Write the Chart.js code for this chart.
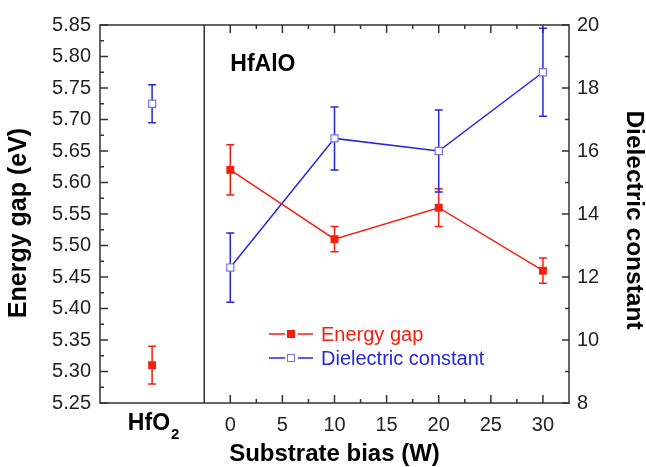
<!DOCTYPE html>
<html>
<head>
<meta charset="utf-8">
<script src="https://cdn.jsdelivr.net/npm/chart.js@4.4.1/dist/chart.umd.min.js"></script>
<style>
  html, body { margin: 0; padding: 0; background: #fff; }
  #wrap { width: 646px; height: 467px; }
</style>
</head>
<body>
<div id="wrap"><canvas id="chart"></canvas></div>
<script>
// ================= DATA =================
const biasLevels = [0, 10, 20, 30];           // substrate bias (W)
const gapValues = [5.62, 5.51, 5.56, 5.46];   // energy gap (eV)
const gapErrors = [0.04, 0.02, 0.03, 0.02];
const kValues = [12.3, 16.4, 16.0, 18.5];     // dielectric constant
const kErrors = [1.1, 1.0, 1.3, 1.4];

// HfO2 reference film, plotted left of the divider
const refPosition = -7.5;
const refGap = 5.31;
const refGapError = 0.03;
const refK = 17.5;
const refKError = 0.6;

const biasTicks = [0, 5, 10, 15, 20, 25, 30];
const gapTicks = [5.25, 5.30, 5.35, 5.40, 5.45, 5.50, 5.55, 5.60, 5.65, 5.70, 5.75, 5.80, 5.85];
const kTicks = [8, 10, 12, 14, 16, 18, 20];
const dividerAt = -2.5;

const RED = "#f2200f";
const BLUE = "#2626dc";
const FRAME = "#333";
const FONT = 'Arial, "Liberation Sans", sans-serif';

Chart.defaults.font.family = FONT;

// ================= PLUGINS =================
const errorBars = {
  id: "errorBars",
  beforeDatasetsDraw(chart) {
    const ctx = chart.ctx;
    chart.data.datasets.forEach((ds, i) => {
      const meta = chart.getDatasetMeta(i);
      const yScale = chart.scales[ds.yAxisID];
      ctx.save();
      ctx.strokeStyle = ds.borderColor;
      ctx.lineWidth = 1.5;
      ds.data.forEach((p, j) => {
        const x = meta.data[j].x;
        const top = yScale.getPixelForValue(p.y + p.err);
        const bot = yScale.getPixelForValue(p.y - p.err);
        ctx.beginPath();
        ctx.moveTo(x, top); ctx.lineTo(x, bot);
        ctx.moveTo(x - 4, top); ctx.lineTo(x + 4, top);
        ctx.moveTo(x - 4, bot); ctx.lineTo(x + 4, bot);
        ctx.stroke();
      });
      ctx.restore();
    });
  }
};

const frame = {
  id: "frame",
  beforeDatasetsDraw(chart) {
    const { ctx, chartArea: a, scales } = chart;
    ctx.save();
    ctx.strokeStyle = FRAME;
    ctx.lineWidth = 1.5;
    ctx.strokeRect(a.left, a.top, a.right - a.left, a.bottom - a.top);

    // divider between HfO2 and the HfAlO series
    const dx = scales.x.getPixelForValue(dividerAt);
    ctx.beginPath();
    ctx.moveTo(dx, a.top); ctx.lineTo(dx, a.bottom);

    // inward ticks, major and minor
    gapTicks.forEach((v, i) => {
      const y = scales.yGap.getPixelForValue(v);
      ctx.moveTo(a.left, y); ctx.lineTo(a.left + 8, y);
      if (i < gapTicks.length - 1) {
        const m = scales.yGap.getPixelForValue((v + gapTicks[i + 1]) / 2);
        ctx.moveTo(a.left, m); ctx.lineTo(a.left + 4, m);
      }
    });
    kTicks.forEach((v, i) => {
      const y = scales.yK.getPixelForValue(v);
      ctx.moveTo(a.right, y); ctx.lineTo(a.right - 7, y);
      if (i < kTicks.length - 1) {
        const m = scales.yK.getPixelForValue((v + kTicks[i + 1]) / 2);
        ctx.moveTo(a.right, m); ctx.lineTo(a.right - 4, m);
      }
    });
    biasTicks.forEach((v, i) => {
      const x = scales.x.getPixelForValue(v);
      ctx.moveTo(x, a.bottom); ctx.lineTo(x, a.bottom - 8);
      ctx.moveTo(x, a.top); ctx.lineTo(x, a.top + 8);
      if (i < biasTicks.length - 1) {
        const m = scales.x.getPixelForValue((v + biasTicks[i + 1]) / 2);
        ctx.moveTo(m, a.bottom); ctx.lineTo(m, a.bottom - 4);
        ctx.moveTo(m, a.top); ctx.lineTo(m, a.top + 4);
      }
    });
    ctx.stroke();
    ctx.restore();
  },
  afterDraw(chart) {
    const { ctx, scales } = chart;
    ctx.save();

    // vertical axis titles
    ctx.fillStyle = "#000";
    ctx.textAlign = "center";
    ctx.textBaseline = "middle";
    ctx.font = "bold 25px " + FONT;
    ctx.save();
    ctx.translate(19, 223);
    ctx.rotate(-Math.PI / 2);
    ctx.fillText("Energy gap (eV)", 0, 0);
    ctx.restore();
    ctx.font = "bold 24.5px " + FONT;
    ctx.save();
    ctx.translate(634, 220);
    ctx.rotate(Math.PI / 2);
    ctx.fillText("Dielectric constant", 0, 0);
    ctx.restore();

    // sample labels
    ctx.textAlign = "left";
    ctx.textBaseline = "alphabetic";
    ctx.font = "bold 23px " + FONT;
    ctx.fillText("HfAlO", scales.x.getPixelForValue(0), 71);

    const hx = scales.x.getPixelForValue(refPosition);
    const mainW = ctx.measureText("HfO").width;
    ctx.font = "bold 15px " + FONT;
    const subW = ctx.measureText("2").width;
    const start = hx - (mainW + subW) / 2 + 1;
    ctx.font = "bold 23px " + FONT;
    ctx.fillText("HfO", start, 430);
    ctx.font = "bold 15px " + FONT;
    ctx.fillText("2", start + mainW + 1, 439);

    // legend
    const rows = [
      { text: "Energy gap", color: RED, fill: RED, edge: RED, y: 334 },
      { text: "Dielectric constant", color: BLUE, fill: "#fff", edge: "#7676e6", y: 358 }
    ];
    rows.forEach(r => {
      ctx.strokeStyle = r.color;
      ctx.lineWidth = 1.5;
      ctx.beginPath();
      ctx.moveTo(269, r.y); ctx.lineTo(285, r.y);
      ctx.moveTo(298, r.y); ctx.lineTo(313, r.y);
      ctx.stroke();
      ctx.fillStyle = r.fill;
      ctx.fillRect(287.5, r.y - 3.5, 7, 7);
      ctx.strokeStyle = r.edge;
      ctx.lineWidth = 1;
      ctx.strokeRect(287.5, r.y - 3.5, 7, 7);
      ctx.fillStyle = r.color;
      ctx.font = "20px " + FONT;
      ctx.textBaseline = "middle";
      ctx.fillText(r.text, 321, r.y + 1);
    });
    ctx.restore();
  }
};

// ================= CHART =================
const toPoints = (xs, ys, es) => xs.map((x, i) => ({ x: x, y: ys[i], err: es[i] }));

new Chart(document.getElementById("chart"), {
  type: "scatter",
  data: {
    datasets: [
      {
        label: "Energy gap",
        data: toPoints(biasLevels, gapValues, gapErrors),
        yAxisID: "yGap",
        showLine: true,
        borderColor: RED,
        borderWidth: 1.5,
        pointStyle: "rect",
        pointRadius: 5.6,
        pointBackgroundColor: RED,
        pointBorderColor: RED,
        pointBorderWidth: 0
      },
      {
        label: "Dielectric constant",
        data: toPoints(biasLevels, kValues, kErrors),
        yAxisID: "yK",
        showLine: true,
        borderColor: BLUE,
        borderWidth: 1.5,
        pointStyle: "rect",
        pointRadius: 5,
        pointBackgroundColor: "#fff",
        pointBorderColor: "#7676e6",
        pointBorderWidth: 1.2
      },
      {
        label: "HfO2 energy gap",
        data: [{ x: refPosition, y: refGap, err: refGapError }],
        yAxisID: "yGap",
        showLine: false,
        borderColor: RED,
        pointStyle: "rect",
        pointRadius: 5.6,
        pointBackgroundColor: RED,
        pointBorderColor: RED,
        pointBorderWidth: 0
      },
      {
        label: "HfO2 dielectric constant",
        data: [{ x: refPosition, y: refK, err: refKError }],
        yAxisID: "yK",
        showLine: false,
        borderColor: BLUE,
        pointStyle: "rect",
        pointRadius: 5,
        pointBackgroundColor: "#fff",
        pointBorderColor: "#7676e6",
        pointBorderWidth: 1.2
      }
    ]
  },
  options: {
    responsive: true,
    maintainAspectRatio: false,
    animation: false,
    layout: { padding: { top: 25, left: 0, right: 0, bottom: 0 } },
    plugins: {
      legend: { display: false },
      tooltip: { enabled: false }
    },
    scales: {
      x: {
        type: "linear",
        min: -12.5,
        max: 32.5,
        afterBuildTicks: s => { s.ticks = biasTicks.map(v => ({ value: v })); },
        afterFit: s => { s.height = 64; },
        grid: { display: false, drawTicks: false },
        border: { display: false },
        ticks: { padding: 10, autoSkip: false, maxRotation: 0, color: "#222", font: { size: 20 } },
        title: {
          display: true,
          text: "Substrate bias (W)",
          color: "#000",
          font: { size: 24, weight: "bold", lineHeight: 1 },
          padding: { top: 0, bottom: 1 }
        }
      },
      yGap: {
        type: "linear",
        position: "left",
        min: 5.25,
        max: 5.85,
        afterBuildTicks: s => { s.ticks = gapTicks.map(v => ({ value: v })); },
        afterFit: s => { s.width = 100; },
        grid: { display: false, drawTicks: false },
        border: { display: false },
        ticks: { padding: 9, color: "#222", font: { size: 20 }, callback: v => v.toFixed(2) }
      },
      yK: {
        type: "linear",
        position: "right",
        min: 8,
        max: 20,
        afterBuildTicks: s => { s.ticks = kTicks.map(v => ({ value: v })); },
        afterFit: s => { s.width = 77; },
        grid: { display: false, drawTicks: false },
        border: { display: false },
        ticks: { padding: 8, color: "#222", font: { size: 20 } }
      }
    }
  },
  plugins: [frame, errorBars]
});
</script>
</body>
</html>
